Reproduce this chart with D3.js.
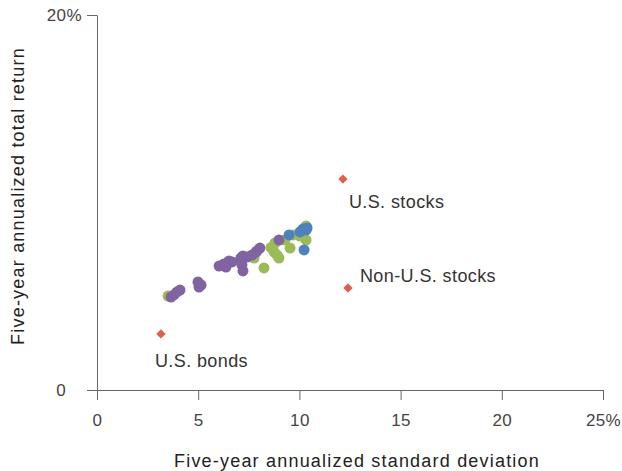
<!DOCTYPE html>
<html lang="en">
<head>
    <meta charset="UTF-8">
    <title>Risk and return</title>
    <script src="https://d3js.org/d3.v7.min.js"></script>
    <style>
        body { margin: 0; background: #fff; }
        svg { font-family: "Liberation Sans", Arial, sans-serif; }
        .axis path, .axis line { stroke: #666; }
        .axis text { fill: #444; font-size: 17px; font-family: "Liberation Sans", Arial, sans-serif; }
    </style>
</head>
<body>
    <svg width="622" height="471"></svg>

    <script>
        // funds, [standard deviation, total return] in percent
        const greenFunds = [
            [3.51, 5.01], [7.76, 7.04], [8.25, 6.51], [8.75, 7.36], [8.79, 7.84],
            [8.89, 7.2], [8.99, 7.04], [9.54, 7.57], [9.68, 8.27], [10.03, 8.21],
            [10.33, 8.75], [10.33, 8.0], [9.29, 8.0], [8.6, 7.6]
        ];
        const blueFunds = [
            [9.49, 8.27], [10.03, 8.43], [10.18, 8.59], [10.33, 8.53], [10.38, 8.64], [10.23, 7.47]
        ];
        const purpleFunds = [
            [3.66, 4.96], [3.8, 5.07], [3.95, 5.23], [4.1, 5.33], [4.99, 5.76], [5.04, 5.49],
            [5.14, 5.6], [6.03, 6.61], [6.27, 6.72], [6.52, 6.88], [6.37, 6.56], [6.67, 6.83],
            [7.11, 7.04], [7.21, 7.15], [7.16, 6.67], [7.21, 6.35], [7.41, 7.09], [7.66, 7.2],
            [7.86, 7.36], [8.05, 7.57], [7.9, 7.41], [8.99, 8.0]
        ];
        const benchmarks = ["U.S. bonds", "U.S. stocks", "Non-U.S. stocks"];
        const benchRisk = [3.16, 12.15, 12.4];
        const benchReturn = [2.99, 11.25, 5.44];

        const xTicks = [0, 5, 10, 15, 20, 25];
        const yTicks = [0, 20];

        const svg = d3.select("svg");
        const x = d3.scaleLinear().domain([0, 25]).range([97, 603]);
        const y = d3.scaleLinear().domain([0, 20]).range([390, 15]);

        // axes
        svg.append("g")
            .attr("class", "axis")
            .attr("transform", "translate(0,390)")
            .call(d3.axisBottom(x).tickValues(xTicks).tickSize(10).tickSizeOuter(0).tickPadding(14)
                .tickFormat(d => d === 25 ? "25%" : d));

        const yAxis = svg.append("g")
            .attr("class", "axis")
            .attr("transform", "translate(97,0)")
            .call(d3.axisLeft(y).tickValues(yTicks).tickSize(10).tickSizeOuter(0).tickPadding(5)
                .tickFormat(d => d === 20 ? "20%" : d));
        yAxis.selectAll(".tick text").filter(d => d === 0).attr("x", -31);
        svg.selectAll(".axis text").attr("letter-spacing", 0.4);

        // fund dots
        const series = [
            { data: greenFunds, color: "#9bbb59" },
            { data: blueFunds, color: "#4f81bd" },
            { data: purpleFunds, color: "#8064a2" }
        ];
        series.forEach(s => {
            svg.append("g").selectAll("circle")
                .data(s.data)
                .join("circle")
                .attr("cx", d => x(d[0]))
                .attr("cy", d => y(d[1]))
                .attr("r", 5.5)
                .attr("fill", s.color);
        });

        // benchmark diamonds
        const diamond = d3.symbol().type(d3.symbolDiamond2).size(55);
        svg.append("g").selectAll("path")
            .data(benchmarks)
            .join("path")
            .attr("transform", (d, i) => `translate(${x(benchRisk[i])},${y(benchReturn[i])})`)
            .attr("d", diamond)
            .attr("fill", "#dd604d");

        const labelOffset = [[-6, 33], [6, 29], [12, -6]];
        svg.append("g").selectAll("text")
            .data(benchmarks)
            .join("text")
            .attr("x", (d, i) => x(benchRisk[i]) + labelOffset[i][0])
            .attr("y", (d, i) => y(benchReturn[i]) + labelOffset[i][1])
            .attr("fill", "#333")
            .attr("font-size", 18)
            .attr("letter-spacing", 0.4)
            .text(d => d);

        // axis titles
        svg.append("text")
            .attr("x", 357)
            .attr("y", 467)
            .attr("text-anchor", "middle")
            .attr("fill", "#222")
            .attr("font-size", 18)
            .attr("letter-spacing", 1.2)
            .text("Five-year annualized standard deviation");

        svg.append("text")
            .attr("transform", "translate(24,196) rotate(-90)")
            .attr("text-anchor", "middle")
            .attr("fill", "#222")
            .attr("font-size", 18)
            .attr("letter-spacing", 1.2)
            .text("Five-year annualized total return");
    </script>
</body>
</html>
